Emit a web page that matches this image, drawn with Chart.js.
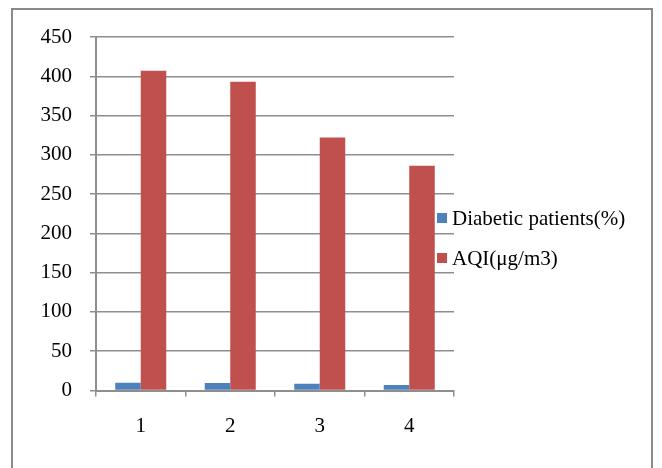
<!DOCTYPE html>
<html>
<head>
<meta charset="utf-8">
<script src="https://cdn.jsdelivr.net/npm/chart.js@4.4.1/dist/chart.umd.min.js"></script>
<style>
  html, body { margin: 0; padding: 0; background: #fff; }
  #wrap { position: relative; width: 662px; height: 468px; overflow: hidden; }
  #frame {
    position: absolute; left: 11px; top: 8px; width: 642px; height: 480px;
    border: 2px solid #8a8a8a; box-sizing: border-box;
  }
  #legend {
    position: absolute; left: 437px; top: 206px;
    font-family: "Liberation Serif", serif; font-size: 21px; color: #000;
  }
  .item { position: relative; height: 40px; line-height: 24px; padding-left: 15px; white-space: nowrap; }
  .sw { position: absolute; left: 0; top: 7px; width: 10px; height: 10px; }
</style>
</head>
<body>
<div id="wrap">
  <div id="frame"></div>
  <canvas id="chart" width="662" height="468"></canvas>
  <div id="legend"></div>
</div>
<script>
const categories = ["1", "2", "3", "4"];
const diabeticPatients = [10, 9.5, 8.5, 7];
const aqi = [407, 393, 322, 286];
const seriesNames = ["Diabetic patients(%)", "AQI(μg/m3)"];
const seriesColors = ["#4f81bd", "#c0504d"];

const gridColor = "#8e8e8e";
const fontSpec = { family: "Liberation Serif", size: 21 };

const ctx = document.getElementById("chart");
const chart = new Chart(ctx.getContext("2d"), {
  type: "bar",
  data: {
    labels: categories,
    datasets: [
      {
        label: seriesNames[0],
        data: diabeticPatients,
        backgroundColor: seriesColors[0],
        barPercentage: 1,
        categoryPercentage: 0.57,
      },
      {
        label: seriesNames[1],
        data: aqi,
        backgroundColor: seriesColors[1],
        barPercentage: 1,
        categoryPercentage: 0.57,
      },
    ],
  },
  options: {
    responsive: false,
    animation: false,
    layout: { padding: { top: 37, right: 208, bottom: 0, left: 0 } },
    plugins: { legend: { display: false }, tooltip: { enabled: false } },
    scales: {
      x: {
        afterFit: (scale) => { scale.height = 77.5; },
        grid: {
          display: true,
          drawOnChartArea: false,
          drawTicks: true,
          tickLength: 6,
          color: gridColor,
          lineWidth: 1.5,
        },
        border: { color: gridColor, width: 2 },
        ticks: { color: "#000", font: fontSpec, padding: 17 },
      },
      y: {
        min: 0,
        max: 450,
        afterFit: (scale) => { scale.width = 96; },
        grid: { color: gridColor, lineWidth: 1.5, tickLength: 6 },
        border: { color: gridColor, width: 2 },
        ticks: { stepSize: 50, color: "#000", font: fontSpec, padding: 18 },
      },
    },
  },
});

// legend overlay
const legendEl = document.getElementById("legend");
seriesNames.forEach((name, i) => {
  const item = document.createElement("div");
  item.className = "item";
  const sw = document.createElement("span");
  sw.className = "sw";
  sw.style.background = seriesColors[i];
  item.appendChild(sw);
  item.appendChild(document.createTextNode(name));
  legendEl.appendChild(item);
});
</script>
</body>
</html>
